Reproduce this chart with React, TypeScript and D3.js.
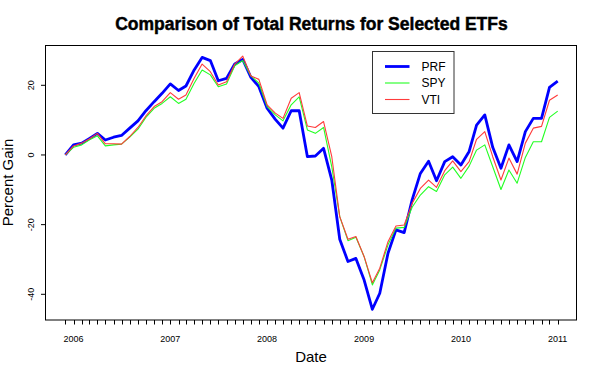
import React from "react";
import * as d3 from "d3";

const startMonth = new Date(2005, 11, 1);
const endMonth = new Date(2011, 0, 1);
const dates: Date[] = d3.timeMonth.range(startMonth, d3.timeMonth.offset(endMonth, 1));

const yearTicks = [2006, 2007, 2008, 2009, 2010, 2011];
const yTicks = [-40, -20, 0, 20];

const PRF = [
  0, 2.9, 3.4, 4.7, 6.2, 4.3, 5.1, 5.6, 7.7, 9.8, 12.7, 15.3, 17.7, 20.4, 18.5, 19.8,
  24.4, 28.0, 27.1, 21.3, 22.0, 26.1, 27.4, 22.3, 19.6, 13.4, 10.2, 7.7, 12.7, 12.7,
  -0.5, -0.3, 1.9, -7.2, -24.2, -30.6, -29.7, -35.9, -44.3, -39.7, -28.2, -21.5, -22.3,
  -12.9, -5.3, -1.8, -7.4, -1.9, -0.5, -2.9, 1.0, 8.6, 11.5, 2.2, -3.8, 2.9, -1.9, 6.7,
  10.5, 10.5, 19.4, 21.2,
];
const SPY = [
  0, 2.2, 2.9, 4.3, 5.5, 2.6, 2.9, 3.1, 5.1, 7.4, 10.8, 13.4, 14.8, 16.7, 14.8, 16.0,
  20.6, 24.4, 23.0, 19.6, 20.4, 25.6, 27.1, 22.7, 20.6, 13.9, 11.5, 9.8, 14.4, 16.7,
  7.2, 6.2, 7.9, -3.4, -17.7, -24.6, -23.6, -29.2, -37.3, -33.0, -25.8, -21.0, -20.8,
  -15.0, -11.5, -9.1, -10.5, -5.7, -3.5, -6.7, -3.2, 1.4, 2.9, -3.4, -9.9, -4.3, -8.1,
  -0.7, 3.8, 3.8, 10.8, 12.6,
];
const VTI = [
  0, 2.6, 3.4, 4.6, 6.2, 3.2, 3.2, 3.1, 5.3, 7.9, 11.2, 13.9, 15.3, 17.9, 16.0, 17.2,
  22.0, 26.1, 23.9, 20.1, 21.0, 26.1, 28.4, 22.7, 21.7, 14.4, 12.0, 10.5, 16.3, 17.9,
  8.3, 7.9, 9.6, -0.5, -17.7, -24.2, -23.4, -29.2, -36.7, -32.5, -24.9, -20.4, -20.1,
  -13.9, -9.6, -7.2, -9.3, -4.5, -1.7, -4.8, -1.9, 4.5, 6.7, -0.5, -7.2, -0.9, -5.5,
  3.4, 7.7, 8.2, 15.7, 17.2,
];

const seriesNames = ["PRF", "SPY", "VTI"];
const seriesValues = [PRF, SPY, VTI];
const seriesColors = ["#0000ff", "#22ff22", "#ff3b3b"];
const seriesWidths = [2.8, 1.1, 1.1];

const FONT = "'Liberation Sans', Arial, Helvetica, sans-serif";

export default function App() {
  const W = 601;
  const H = 376;
  const box = { left: 45.5, top: 45.5, right: 576.5, bottom: 320 };

  const x = d3
    .scaleTime()
    .domain([dates[0], dates[dates.length - 1]])
    .range([65.3, 557.7]);
  const y = d3.scaleLinear().domain([-40, 20]).range([294.3, 85.3]);

  const line = d3
    .line<number>()
    .x((_, i) => x(dates[i]))
    .y((d) => y(d));

  const legend = { x: 372.5, y: 51.5, w: 81.5, h: 62 };
  const legendRows = [66.5, 83, 99.5];

  return (
    <div style={{ position: "fixed", left: 0, top: 0 }}>
      <svg width={W} height={H} style={{ display: "block", background: "#fff" }} fontFamily={FONT}>
        <rect x={0} y={0} width={W} height={H} fill="#fff" />
        <text
          x={311.5}
          y={30}
          textAnchor="middle"
          fontSize={17.5}
          fontWeight="bold"
          fill="#000"
          stroke="#000"
          strokeWidth={0.45}
        >
          Comparison of Total Returns for Selected ETFs
        </text>

        {seriesValues.map((vals, k) => (
          <path
            key={seriesNames[k]}
            d={line(vals) || ""}
            fill="none"
            stroke={seriesColors[k]}
            strokeWidth={seriesWidths[k]}
            strokeLinejoin="round"
          />
        ))}

        <rect
          x={box.left}
          y={box.top}
          width={box.right - box.left}
          height={box.bottom - box.top}
          fill="none"
          stroke="#000"
          strokeWidth={1}
        />

        {/* y axis */}
        {yTicks.map((t) => (
          <g key={t}>
            <line x1={41} x2={45.5} y1={y(t)} y2={y(t)} stroke="#000" strokeWidth={1} />
            <text
              transform={`translate(34,${y(t)}) rotate(-90)`}
              textAnchor="middle"
              fontSize={9}
              fill="#000"
            >
              {t}
            </text>
          </g>
        ))}

        {/* x axis */}
        {dates.map((d, i) => (
          <line
            key={i}
            x1={Math.round(x(d)) + 0.5}
            x2={Math.round(x(d)) + 0.5}
            y1={320}
            y2={324.5}
            stroke="#000"
            strokeWidth={1}
          />
        ))}
        {yearTicks.map((yr) => (
          <text
            key={yr}
            x={x(new Date(yr, 0, 1))}
            y={342}
            textAnchor="middle"
            fontSize={9}
            fill="#000"
          >
            {yr}
          </text>
        ))}

        <text x={311} y={362} textAnchor="middle" fontSize={15} fill="#000">
          Date
        </text>
        <text
          transform={`translate(13,182.5) rotate(-90)`}
          textAnchor="middle"
          fontSize={15}
          fill="#000"
        >
          Percent Gain
        </text>

        {/* legend */}
        <rect
          x={legend.x}
          y={legend.y}
          width={legend.w}
          height={legend.h}
          fill="#fff"
          stroke="#333"
          strokeWidth={1}
        />
        {seriesNames.map((name, k) => (
          <g key={name}>
            <line
              x1={385}
              x2={409.5}
              y1={legendRows[k]}
              y2={legendRows[k]}
              stroke={seriesColors[k]}
              strokeWidth={seriesWidths[k]}
            />
            <text x={421.5} y={legendRows[k] + 4.3} fontSize={12} fill="#000">
              {name}
            </text>
          </g>
        ))}
      </svg>
    </div>
  );
}
